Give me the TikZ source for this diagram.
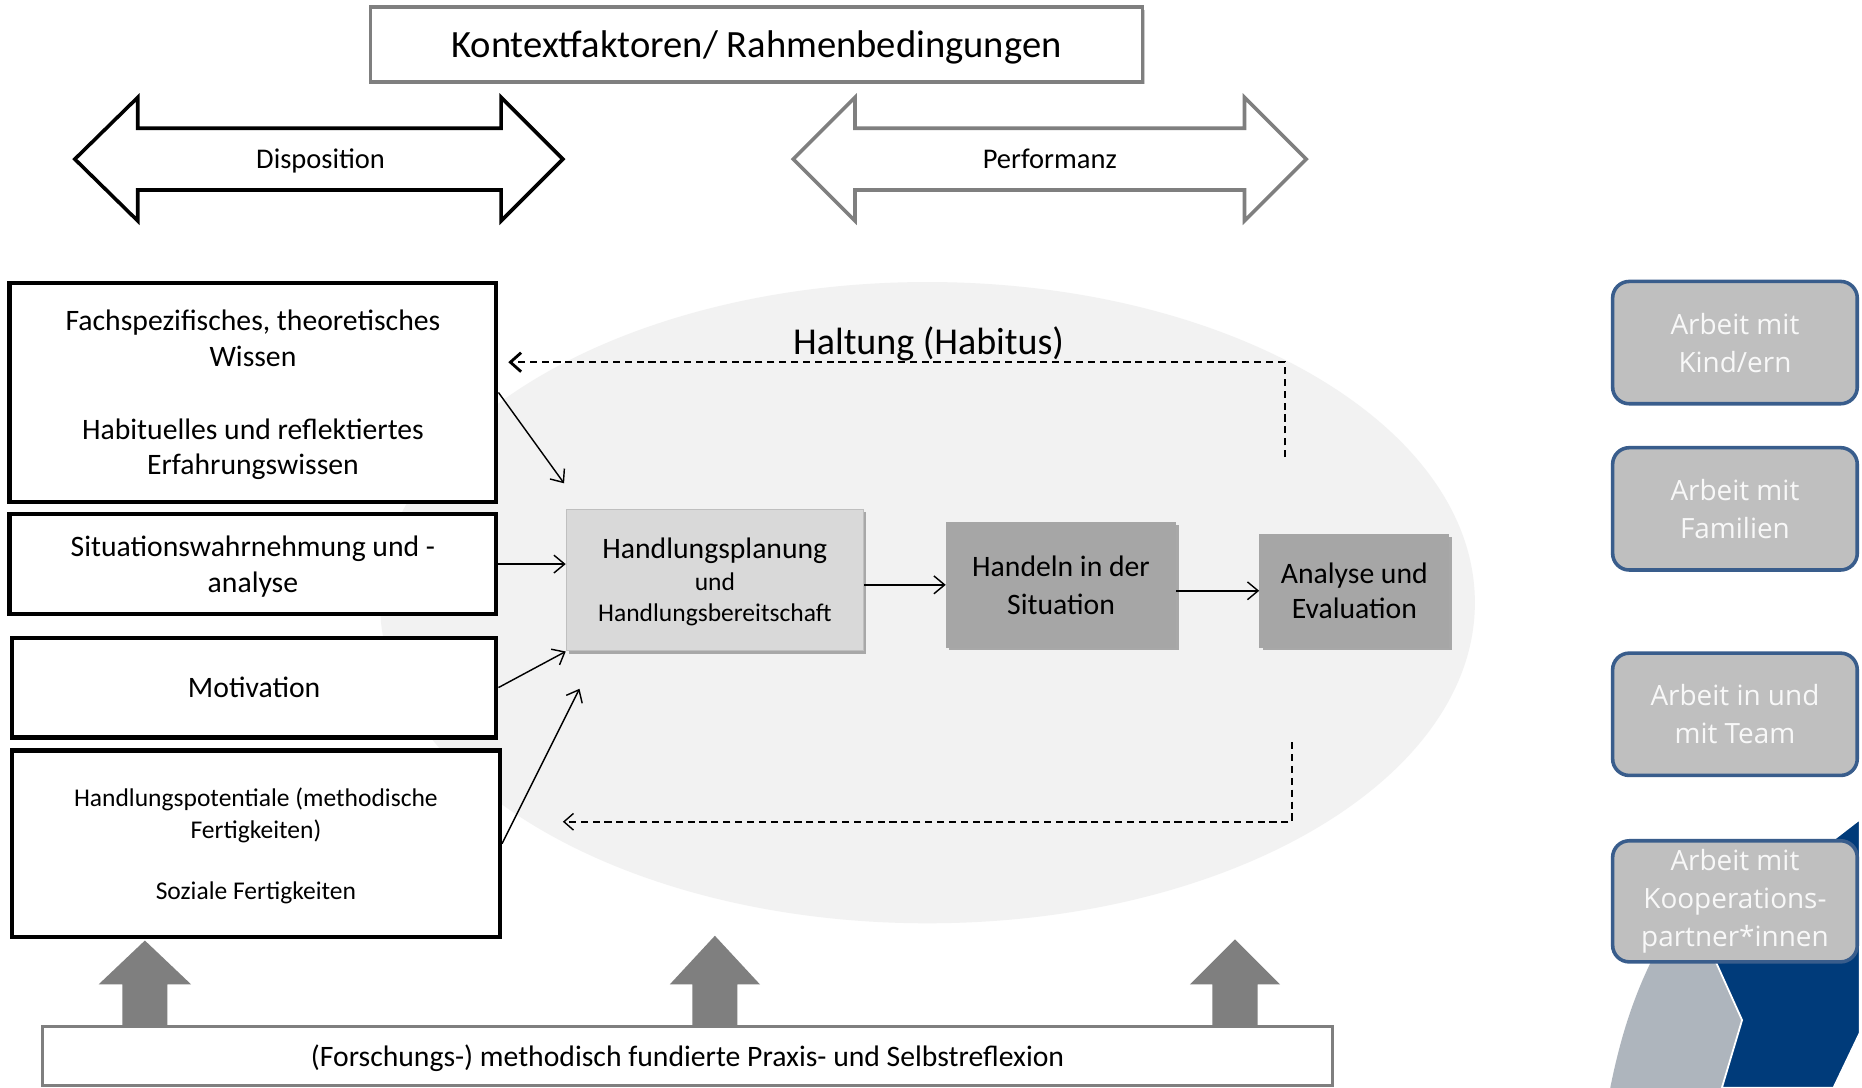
\documentclass[tikz,border=0pt]{standalone}
\usepackage{fontspec}
\setmainfont{Carlito}
\newfontfamily\osfont{Open Sans}
\usetikzlibrary{arrows.meta,shapes.geometric,shadows}
\definecolor{ellgray}{HTML}{F2F2F2}
\definecolor{midgray}{HTML}{7F7F7F}
\definecolor{lightbox}{HTML}{D9D9D9}
\definecolor{darkbox}{HTML}{A6A6A6}
\definecolor{rbfill}{HTML}{BFBFBF}
\definecolor{rbborder}{HTML}{395D8C}
\definecolor{rbtext}{HTML}{F8F8F8}
\definecolor{navy}{HTML}{003B7A}
\definecolor{grayblue}{HTML}{AEB5BD}
\tikzset{
  lbox/.style={draw=black, line width=3.5pt, fill=white, align=center, inner sep=0pt,
    minimum width=410pt, text depth=0pt, font=\fontsize{25}{30}\selectfont},
  cbox/.style={line width=1.2pt, align=center, inner sep=0pt,
    drop shadow={shadow xshift=2.5pt, shadow yshift=-2.5pt, opacity=.3, fill=black}},
  rbox/.style={draw=rbborder, fill=rbfill, line width=3pt, rounded corners=14pt,
    minimum width=206pt, minimum height=103pt, align=center, inner sep=0pt,
    text=rbtext, font=\osfont\fontsize{23.5}{32}\selectfont},
  conn/.style={draw=black, line width=1.2pt, -{Straight Barb[length=9pt,width=15pt,line width=1.2pt]}},
  fbdash/.style={draw=black, dash pattern=on 6pt off 4pt},
  blockarrow/.style={line width=3pt, fill=white, line join=miter},
  uparrow/.style={fill=midgray, draw=none},
  lbl/.style={inner sep=0pt}
}
\begin{document}
\begin{tikzpicture}[x=1pt,y=-1pt]
\useasboundingbox (0,0) rectangle (1568,916);
\fill[white] (0,0) rectangle (1568,916);

% ellipse background
\node[ellipse, fill=ellgray, minimum width=922pt, minimum height=540pt, inner sep=0pt] (ell) at (781,507.5) {};

% top box
\node[draw=midgray, line width=3pt, fill=white, minimum width=650pt, minimum height=63pt, inner sep=0pt,
  text depth=0pt, font=\fontsize{32.5}{36}\selectfont,
  drop shadow={shadow xshift=2pt, shadow yshift=-2pt, opacity=.2, fill=black}] (ctx) at (637,37.5) {Kontextfaktoren/ Rahmenbedingungen};

% double arrows
\draw[blockarrow, draw=black] (63,134) -- (116,82) -- (116,108) -- (422,108) -- (422,82) -- (474,134)
  -- (422,186) -- (422,160) -- (116,160) -- (116,186) -- cycle;
\node[lbl, text depth=0pt, font=\fontsize{24}{28}\selectfont] (disp) at (270,134) {Disposition};
\draw[blockarrow, draw=midgray] (668,134) -- (720,82) -- (720,108) -- (1048,108) -- (1048,82) -- (1100,134)
  -- (1048,186) -- (1048,160) -- (720,160) -- (720,186) -- cycle;
\node[lbl, font=\fontsize{24}{28}\selectfont] (perf) at (884,134) {Performanz};

% Haltung
\node[lbl, text depth=4pt, font=\fontsize{32}{36}\selectfont] (halt) at (782,289) {Haltung (Habitus)};

% left boxes
\node[lbox, minimum height=185pt] (b1) at (213,330.5)
  {Fachspezifisches, theoretisches\\Wissen\\[31pt]Habituelles und reflektiertes\\Erfahrungswissen};
\node[lbox, minimum height=84pt] (b2) at (213,475) {Situationswahrnehmung und -\\analyse};
\node[lbox, minimum height=84pt, minimum width=408pt] (b3) at (214,579) {Motivation};
\node[lbox, minimum height=157pt, minimum width=411pt, font=\fontsize{21.5}{27}\selectfont] (b4) at (215.5,710.5)
  {Handlungspotentiale (methodische\\Fertigkeiten)\\[25pt]Soziale Fertigkeiten};

% center boxes
\node[cbox, draw=rbfill, fill=lightbox, minimum width=250pt, minimum height=119pt, text depth=-8pt,
  font=\fontsize{21.5}{26.5}\selectfont] (h1) at (602,488.5)
  {{\fontsize{25}{26.5}\selectfont Handlungsplanung}\\und\\Handlungsbereitschaft};
\node[cbox, draw=darkbox, fill=darkbox, minimum width=193pt, minimum height=105pt, text depth=-6pt,
  font=\fontsize{25}{32}\selectfont] (h2) at (893.5,492.5) {Handeln in der\\Situation};
\node[cbox, draw=darkbox, fill=darkbox, minimum width=159pt, minimum height=95pt,
  font=\fontsize{25}{30}\selectfont] (h3) at (1140.5,497.5) {Analyse und\\Evaluation};

% free ends
\coordinate (e1) at (475,407);
\coordinate (e4) at (488,580);
\coordinate (d1) at (1082,385);
\coordinate (f1) at (428,305);
\coordinate (d2) at (1088,625);
\coordinate (f2) at (474,692);

% connectors
\draw[conn] (b1.east) -- (e1);
\draw[conn] (b2.east) -- (b2.east -| h1.west);
\draw[conn] (b3.east) -- (h1.south west);
\draw[conn] (b4.east) -- (e4);
\draw[conn] (h1.east |- h2.west) -- (h2.west);
\draw[conn] (h2.east |- h3.west) -- (h3.west);
\draw[fbdash, line width=1.6pt, -{Straight Barb[length=9pt,width=16pt,line width=2.4pt]}] (d1) |- (f1);
\draw[fbdash, line width=1.6pt, -{Straight Barb[length=8pt,width=14pt,line width=1.2pt]}] (d2) |- (f2);

% up arrows
\fill[uparrow] (103,866) -- (103,829) -- (83,829) -- (122,792) -- (161,829) -- (141,829) -- (141,866) -- cycle;
\fill[uparrow] (583,866) -- (583,829) -- (564,829) -- (602,788) -- (640,829) -- (621,829) -- (621,866) -- cycle;
\fill[uparrow] (1021,866) -- (1021,829) -- (1002,829) -- (1040,791) -- (1078,829) -- (1059,829) -- (1059,866) -- cycle;

% bottom box
\node[draw=midgray, line width=2.5pt, fill=white, minimum width=1086pt, minimum height=50pt, inner sep=0pt,
  text depth=0pt, font=\fontsize{25}{28}\selectfont] (refl) at (579,889) {(Forschungs-) methodisch fundierte Praxis- und Selbstreflexion};

% decorative shapes bottom right
\fill[grayblue] (1356,916) .. controls (1366,866) and (1380,826) .. (1402,788) -- (1435,788) -- (1467,859) -- (1450,916) -- cycle;
\filldraw[fill=navy, draw=white, line width=1.5pt] (1566,690) -- (1566,870) -- (1544,916) -- (1450,916) -- (1467,859)
  -- (1435,788) -- (1500,735) -- (1544,707) -- cycle;

% right boxes
\node[rbox] (r1) at (1461,288.5) {Arbeit mit\\Kind/ern};
\node[rbox] (r2) at (1461,428.5) {Arbeit mit\\Familien};
\node[rbox] (r3) at (1461,601.5) {Arbeit in und\\mit Team};
\node[rbox, minimum height=102pt] (r4) at (1461,759) {Arbeit mit\\Kooperations-\\partner*innen};
\end{tikzpicture}
\end{document}
